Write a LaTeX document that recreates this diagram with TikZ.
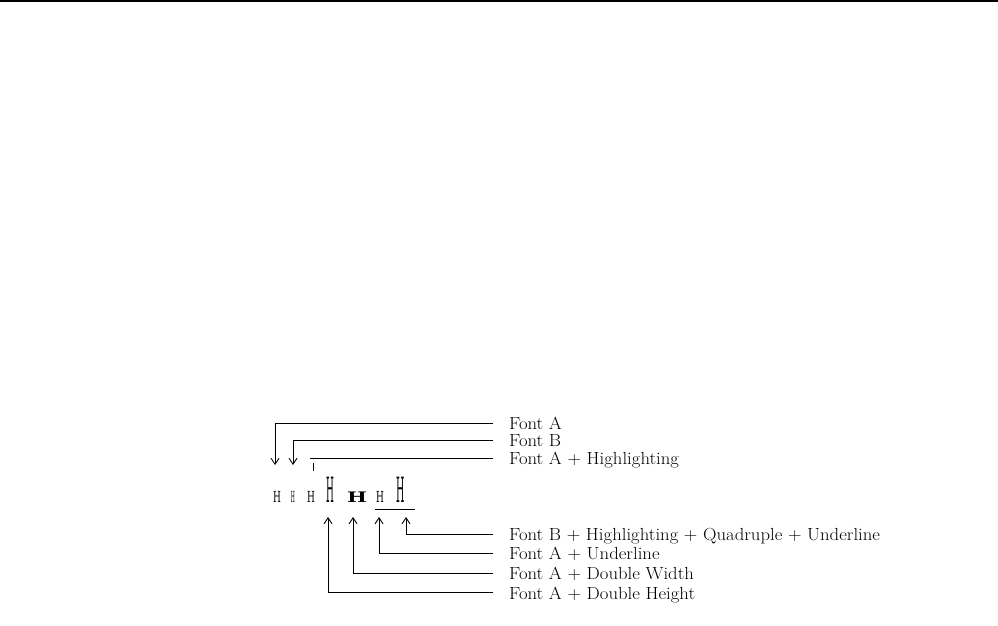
\documentclass[tikz,border=0pt]{standalone}
\usepackage{fontspec}
\setmainfont{Latin Modern Roman}
\newfontfamily\lblfont[FakeStretch=1.07]{Latin Modern Roman}
\newfontfamily\hfont{DejaVu Serif}
\usetikzlibrary{arrows.meta}
\begin{document}
\begin{tikzpicture}[x=1pt,y=-1pt,
  conn/.style={line width=0.9pt},
  arr/.style={conn,-{Straight Barb[length=6pt,width=8pt,line width=0.9pt]}},
  lbl/.style={anchor=base west,inner sep=0pt,font=\lblfont\fontsize{17.5}{19}\selectfont},
  hch/.style={anchor=base,inner sep=0pt,font=\hfont\fontsize{14.5}{15}\selectfont}]
\useasboundingbox (0,0) rectangle (998,626);
\fill (0,0) rectangle (998,2.5);
% characters
\node[hch] (h1) at (277,502) {\scalebox{0.62}[1.05]{H}};
\node[hch] (h2) at (293,502) {\scalebox{0.32}[1.05]{H}};
\node[hch] (h3) at (311,502) {\scalebox{0.62}[1.05]{H}};
\node[hch] (h4) at (330,502) {\scalebox{0.62}[2.4]{H}};
\node[hch] (h5) at (357,502) {\scalebox{1.45}[1]{\bfseries H}};
\node[hch] (h6) at (380,502) {\scalebox{0.62}[1.05]{H}};
\node[hch] (h7) at (401,502) {\scalebox{0.66}[2.4]{H}};
% labels
\node[lbl] (l1) at (509,429.5) {Font A};
\node[lbl] (l2) at (509,446.5) {Font B};
\node[lbl] (l3) at (509,464.5) {Font A + Highlighting};
\node[lbl] (l4) at (509,540.5) {Font B + Highlighting + Quadruple + Underline};
\node[lbl] (l5) at (509,559) {Font A + Underline};
\node[lbl] (l6) at (509,579) {Font A + Double Width};
\node[lbl] (l7) at (509,599) {Font A + Double Height};
% line ends
\coordinate (e1) at (493,423);
\coordinate (e2) at (493,440);
\coordinate (e3) at (493,458);
\coordinate (e4) at (493,534);
\coordinate (e5) at (493,553);
\coordinate (e6) at (493,573);
\coordinate (e7) at (493,592);
\coordinate (t1) at (275,465);
\coordinate (t2) at (293,465);
\coordinate (t3) at (310,458);
\coordinate (b4) at (406,517);
\coordinate (b5) at (379,517);
\coordinate (b6) at (353,517);
\coordinate (b7) at (328,517);
% connectors
\draw[arr] (e1) -| (t1);
\draw[arr] (e2) -| (t2);
\draw[conn] (e3) -- (t3);
\draw[arr] (e4) -| (b4);
\draw[arr] (e5) -| (b5);
\draw[arr] (e6) -| (b6);
\draw[arr] (e7) -| (b7);
% tick and underline
\coordinate (k1) at (313,463);
\coordinate (k2) at (313,471);
\draw[line width=0.6pt] (k1) -- (k2);
\coordinate (u1) at (375,509);
\coordinate (u2) at (415,509);
\draw[conn] (u1) -- (u2);
\end{tikzpicture}
\end{document}
